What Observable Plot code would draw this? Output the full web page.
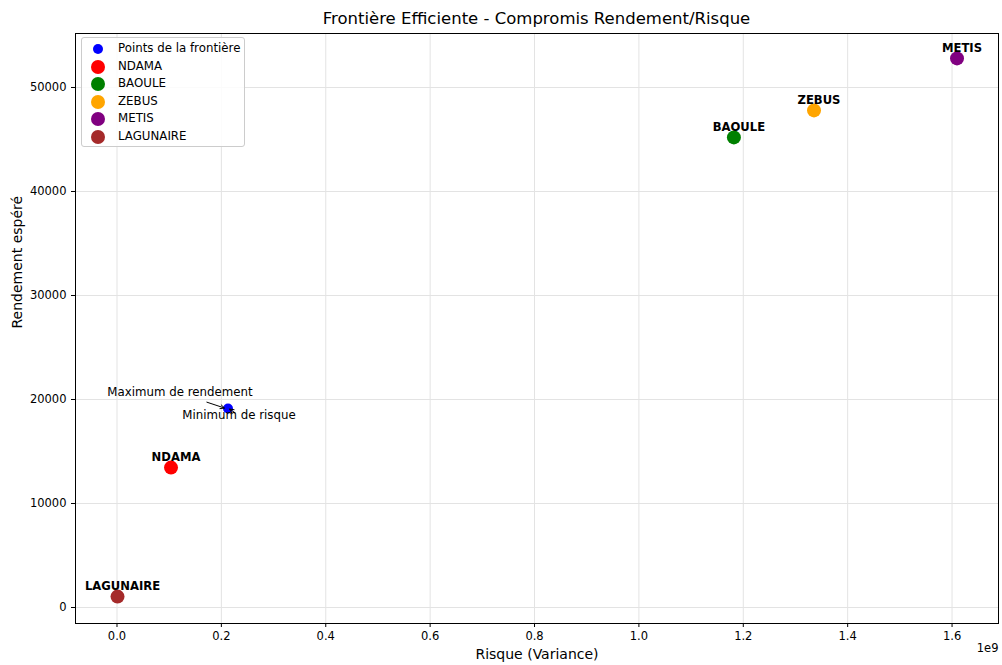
<!DOCTYPE html>
<html><head><meta charset="utf-8">
<script src="https://cdn.jsdelivr.net/npm/d3@7"></script>
<script src="https://cdn.jsdelivr.net/npm/@observablehq/plot@0.6"></script>
<style>
body{margin:0;background:#fff;font-family:"DejaVu Sans",sans-serif;}
#wrap{position:relative;width:1002px;height:665px;}
#title{position:absolute;left:75px;width:923px;top:9px;text-align:center;font-size:16.5px;color:#000;}
#chart{position:absolute;left:0;top:28px;}
#legend{position:absolute;left:81px;top:37px;width:162px;height:108px;border:1px solid #ccc;border-radius:3px;background:rgba(255,255,255,0.85);font-size:11.8px;}
.mk{position:absolute;border-radius:50%;}
.lb{position:absolute;left:36px;white-space:nowrap;}
</style></head>
<body>
<div id="wrap">
<div id="title"></div>
<div id="chart"></div>
<div id="legend"></div>
</div>
<script>
const titre = "Frontière Efficiente - Compromis Rendement/Risque";
const races = ["NDAMA","BAOULE","ZEBUS","METIS","LAGUNAIRE"];
const risque = [0.1035e9, 1.182e9, 1.3355e9, 1.6095e9, 0.001e9];
const rendement = [13450, 45200, 47800, 52800, 1050];
const couleurs = ["red","green","orange","purple","brown"];
const frontiereRisque = [0.2127e9];
const frontiereRendement = [19130];
const frontiereNom = "Points de la frontière";
const annotations = ["Maximum de rendement","Minimum de risque"];
const xTicks = [0,0.2e9,0.4e9,0.6e9,0.8e9,1.0e9,1.2e9,1.4e9,1.6e9];
const yTicks = [0,10000,20000,30000,40000,50000];

document.getElementById("title").textContent = titre;

const races_data = races.map((r,i)=>({race:r,x:risque[i],y:rendement[i],c:couleurs[i]}));
const front = frontiereRisque.map((x,i)=>({x,y:frontiereRendement[i]}));
const fp = front[0];

const gridColor = "#e3e3e3";
const font = "DejaVu Sans, sans-serif";

const arrows = (index, scales, values, dims) => {
  const g = d3.create("svg:g").attr("fill","none").attr("stroke","black").attr("stroke-width",1);
  const px = scales.x(fp.x), py = scales.y(fp.y);
  const segs = [[[px-21,py-6],[px-3,py]],[[px+8,py+5],[px+2,py+1]]];
  for (const [[x1,y1],[x2,y2]] of segs) {
    const a = Math.atan2(y2-y1,x2-x1), h = 5, w = 0.45;
    g.append("path").attr("d",
      `M${x1},${y1}L${x2},${y2}M${x2-h*Math.cos(a-w)},${y2-h*Math.sin(a-w)}L${x2},${y2}L${x2-h*Math.cos(a+w)},${y2-h*Math.sin(a+w)}`);
  }
  return g.node();
};

const plot = Plot.plot({
  width: 1002,
  height: 637,
  marginLeft: 75,
  marginRight: 4,
  marginTop: 5,
  marginBottom: 42,
  style: {fontFamily: font, fontSize: "11.5px", color: "black", background: "white"},
  x: {domain: [-0.0795e9, 1.689e9], ticks: xTicks, tickFormat: d => (d/1e9).toFixed(1), label: null, tickSize: 4},
  y: {domain: [-1538, 55192], ticks: yTicks, tickFormat: d3.format("d"), label: null, tickSize: 4},
  marks: [
    Plot.gridX(xTicks, {stroke: gridColor, strokeOpacity: 1}),
    Plot.gridY(yTicks, {stroke: gridColor, strokeOpacity: 1}),
    Plot.axisX({ticks: xTicks, tickFormat: d => (d/1e9).toFixed(1), tickSize: 4, tickPadding: 4, fontSize: 11.5, label: null}),
    Plot.axisY({ticks: yTicks, tickFormat: d3.format("d"), tickSize: 4, tickPadding: 5, fontSize: 11.5, label: null}),
    Plot.text(["Risque (Variance)"], {frameAnchor: "bottom", dy: 31, fontSize: 14, lineAnchor: "middle"}),
    Plot.text(["Rendement espéré"], {frameAnchor: "left", dx: -58, rotate: -90, fontSize: 14}),
    Plot.text(["1e9"], {frameAnchor: "bottom-right", textAnchor: "end", dx: 0, dy: 28, fontSize: 11.5}),
    Plot.dot(front, {x: "x", y: "y", r: 5, fill: "blue", stroke: "none"}),
    Plot.dot(races_data, {x: "x", y: "y", r: 7, fill: "c", stroke: "none"}),
    Plot.text(races_data, {x: "x", y: "y", text: "race", dx: 5, dy: -10, fontWeight: "bold", fontSize: 11.6}),
    Plot.text(front, {x: "x", y: "y", text: () => annotations[0], dx: -48, dy: -16, fontSize: 11.8}),
    Plot.text(front, {x: "x", y: "y", text: () => annotations[1], dx: 11, dy: 7, fontSize: 11.8}),
    arrows,
    Plot.frame({stroke: "black", strokeWidth: 1})
  ]
});
plot.setAttribute("color","black");
document.getElementById("chart").appendChild(plot);

// legend
const leg = document.getElementById("legend");
const items = [{n: frontiereNom, c: "blue", r: 5}].concat(races.map((r,i)=>({n:r,c:couleurs[i],r:7})));
items.forEach((it,i)=>{
  const cy = 11 + i*17.6;
  const m = document.createElement("div");
  m.className = "mk";
  m.style.left = (16 - it.r) + "px";
  m.style.top = (cy - it.r) + "px";
  m.style.width = m.style.height = (2*it.r) + "px";
  m.style.background = it.c;
  leg.appendChild(m);
  const l = document.createElement("div");
  l.className = "lb";
  l.style.top = (cy - 8) + "px";
  l.textContent = it.n;
  leg.appendChild(l);
});
</script>
</body></html>
